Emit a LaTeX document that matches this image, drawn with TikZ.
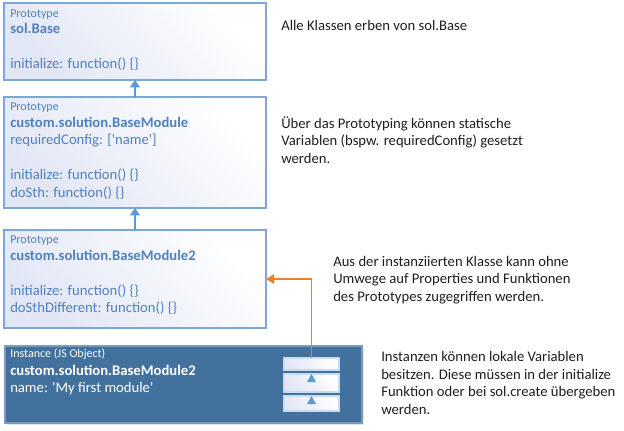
\documentclass[tikz,border=0pt]{standalone}
\usepackage{fontspec}
\setmainfont{Carlito}[Ligatures=TeXOff]
\usetikzlibrary{arrows.meta, positioning, calc, shadows}
\definecolor{protoblue}{RGB}{79,129,189}
\definecolor{frameblue}{RGB}{126,166,214}
\definecolor{instblue}{RGB}{65,113,156}
\definecolor{tipblue}{RGB}{91,155,213}
\definecolor{accorange}{RGB}{237,125,49}
\definecolor{paleviolet}{RGB}{226,230,245}
\definecolor{notegray}{RGB}{30,30,30}
\newcommand{\stacklines}[1]{\begin{tabular}[t]{@{}l@{}}#1\end{tabular}}
\tikzset{
  proto/.style={draw=frameblue, line width=0.9pt, top color=white, bottom color=paleviolet, shading angle=-45,
    anchor=north west, inner sep=0pt, outer sep=0pt, minimum width=196.5pt},
  inst/.style={draw=instblue!70!white, line width=0.9pt, fill=instblue, anchor=north west, inner sep=0pt, outer sep=0pt,
    minimum width=267.75pt, minimum height=57.75pt, drop shadow={shadow xshift=1.2pt, shadow yshift=-1.2pt, opacity=0.2}},
  slot/.style={draw=white!65!tipblue, line width=0.8pt, top color=white, bottom color=paleviolet, shading angle=-45,
    anchor=north west, inner sep=0pt, outer sep=0pt, minimum width=41.25pt},
  tag/.style={anchor=base west, inner sep=0pt, font=\fontsize{9}{10.8}\selectfont},
  txt/.style={anchor=base west, inner sep=0pt, font=\fontsize{11}{13.2}\selectfont},
  inh/.style={draw=tipblue, line width=0.8pt, -{Triangle[width=7.5pt, length=5.5pt]}},
  acc/.style={draw=accorange, line width=1.1pt, -{Triangle[width=7pt, length=6pt]}},
}
\begin{document}
\begin{tikzpicture}[x=0.75pt, y=-0.75pt]
  \useasboundingbox (0,0) rectangle (624,430);

  % prototype chain
  \node[proto, minimum height=57.75pt] (base) at (4,3) {};
  \node[proto, minimum height=83.25pt] (module) at (4,97) {};
  \node[proto, minimum height=73.5pt] (module2) at (4,230) {};
  \node[inst] (instance) at (5,346) {};

  \node[tag, text=protoblue] (baseTag) at (10,17) {Prototype};
  \node[txt, text=protoblue] (baseText) at (10,33)
    {\stacklines{\textbf{sol.Base}\\ \\ initialize: function() \{\}}};
  \node[tag, text=protoblue] (moduleTag) at (10,110) {Prototype};
  \node[txt, text=protoblue] (moduleText) at (10,127)
    {\stacklines{\textbf{custom.solution.BaseModule}\\ requiredConfig: ['name']\\ \\ initialize: function() \{\}\\ doSth: function() \{\}}};
  \node[tag, text=protoblue] (module2Tag) at (10,243) {Prototype};
  \node[txt, text=protoblue] (module2Text) at (10,260)
    {\stacklines{\textbf{custom.solution.BaseModule2}\\ \\ initialize: function() \{\}\\ doSthDifferent: function() \{\}}};
  \node[tag, text=white] (instanceTag) at (10,357) {Instance (JS Object)};
  \node[txt, text=white] (instanceText) at (10,375)
    {\stacklines{\textbf{custom.solution.BaseModule2}\\ name: 'My first module'}};

  % instance slots
  \node[slot, minimum height=9pt] (slotA) at (284,358) {};
  \node[slot, minimum height=13.5pt] (slotB) at (284,374) {};
  \node[slot, minimum height=11.25pt] (slotC) at (284,396) {};
  \fill[tipblue] (slotB.north) -- ++(-4.5,8) -- ++(9,0) -- cycle;
  \fill[tipblue] (slotC.north) -- ++(-4.5,8) -- ++(9,0) -- cycle;

  \draw[inh] (module) -- (base);
  \draw[inh] (module2) -- (module);
  \draw[acc] (slotA.north) |- (module2.east);

  % notes
  \node[txt, text=notegray] (noteBase) at (281,30.7) {Alle Klassen erben von sol.Base};
  \node[txt, text=notegray] (noteModule) at (281,128)
    {\stacklines{Über das Prototyping können statische\\ Variablen (bspw. requiredConfig) gesetzt\\ werden.}};
  \node[txt, text=notegray] (noteAccess) at (333,266)
    {\stacklines{Aus der instanziierten Klasse kann ohne\\ Umwege auf Properties und Funktionen\\ des Prototypes zugegriffen werden.}};
  \node[txt, text=notegray] (noteInstance) at (381,361.7)
    {\stacklines{Instanzen können lokale Variablen\\ besitzen. Diese müssen in der initialize\\ Funktion oder bei sol.create übergeben\\ werden.}};
\end{tikzpicture}
\end{document}
